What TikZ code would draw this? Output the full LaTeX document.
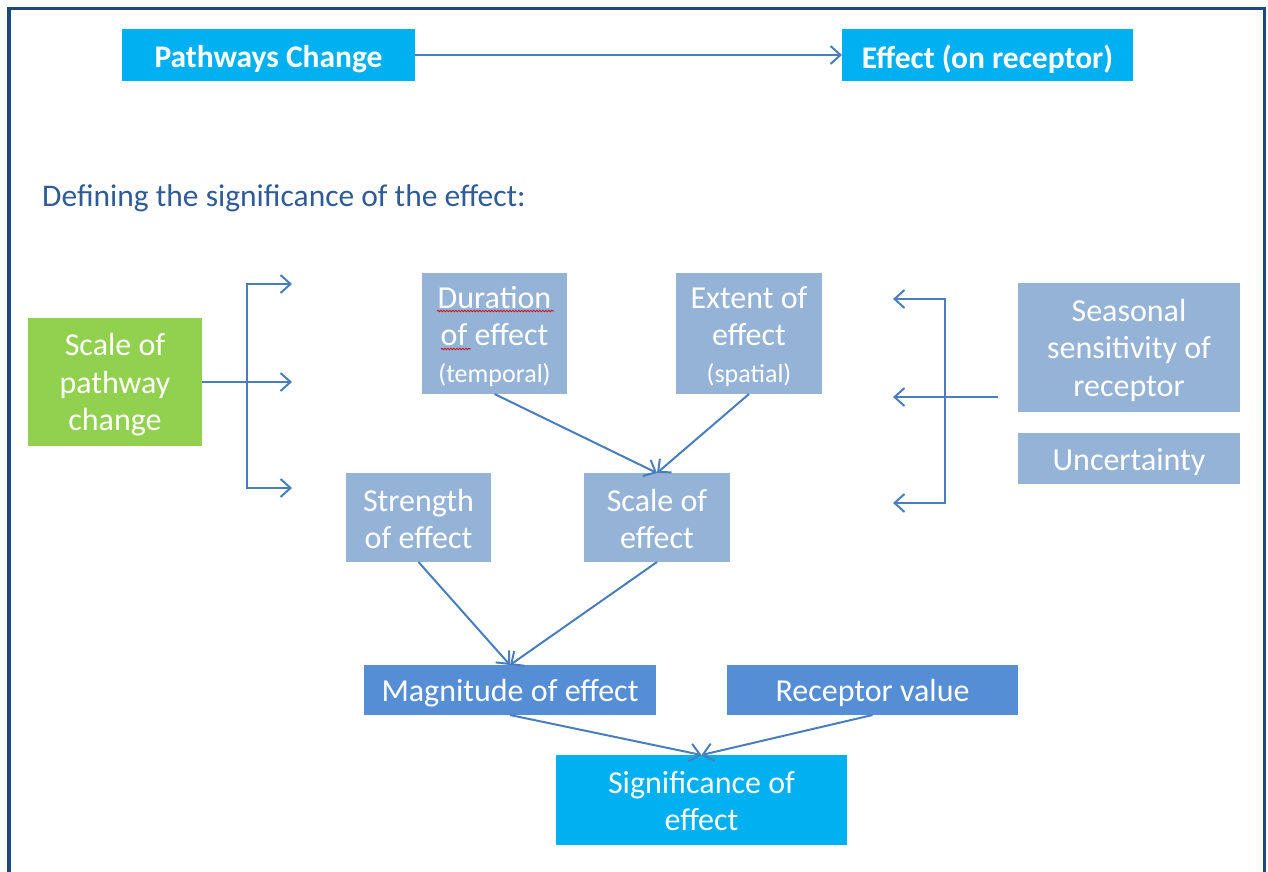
\documentclass[tikz,border=0pt]{standalone}
\usepackage{fontspec}
\setmainfont{Carlito}
\usetikzlibrary{arrows.meta,decorations.pathmorphing}
\definecolor{cyanbox}{HTML}{00B0F0}
\definecolor{greenbox}{HTML}{92D050}
\definecolor{lightbox}{HTML}{95B3D7}
\definecolor{midbox}{HTML}{558ED5}
\definecolor{arrowcol}{HTML}{4A7EBB}
\definecolor{framecol}{HTML}{1F497D}
\definecolor{headcol}{HTML}{2F5B96}
\begin{document}
\begin{tikzpicture}[x=1pt,y=-1pt,
  box/.style={inner sep=0pt, outer sep=0pt},
  btext/.style={inner sep=0pt, text=white, align=center,
    font=\fontsize{32}{37.5}\selectfont},
  bold/.style={btext, font=\bfseries\fontsize{31.5}{37}\selectfont},
  cyanb/.style={box, fill=cyanbox},
  greenb/.style={box, fill=greenbox},
  lightb/.style={box, fill=lightbox},
  midb/.style={box, fill=midbox},
  conn/.style={draw=arrowcol, line width=2pt,
    -{Straight Barb[length=10pt,width=18pt,line width=2pt]}},
  bconn/.style={draw=arrowcol, line width=2pt,
    {Straight Barb[length=10pt,width=18pt,line width=2pt]}-{Straight Barb[length=10pt,width=18pt,line width=2pt]}},
  squig/.style={draw=red!80!black, line width=0.7pt,
    decorate, decoration={snake, segment length=3pt, amplitude=0.8pt}}
]
\useasboundingbox (0,0) rectangle (1268,872);
% frame
\draw[framecol, line width=3.5pt, line join=miter] (9,872) -- (9,8.5) -- (1264.5,8.5) -- (1264.5,872);

% top row
\node[cyanb, minimum width=293pt, minimum height=52pt] (pc) at (268.5,55) {};
\node[bold] (pct) at ([yshift=-4pt]pc.center) {Pathways Change};
\node[cyanb, minimum width=291pt, minimum height=52pt] (eor) at (987.5,55) {};
\node[bold] (eort) at ([yshift=-4pt]eor.center) {Effect (on receptor)};
\draw[conn] (pc) -- (eor);

% heading
\node[anchor=west, inner sep=0pt, text=headcol, font=\fontsize{31.5}{37}\selectfont]
  (head) at (42,198) {Defining the significance of the effect:};

% boxes
\node[greenb, minimum width=174pt, minimum height=128pt] (scp) at (115,382) {};
\node[btext] (scpt) at ([yshift=-3pt]scp.center) {Scale of\\pathway\\change};

\node[lightb, minimum width=145pt, minimum height=121pt] (dur) at (494.5,333.5) {};
\node[btext] (durt) at ([yshift=-3pt]dur.center)
  {Duration\\of effect\\[-1pt]{\fontsize{26}{31}\selectfont (temporal)}};

\node[lightb, minimum width=146pt, minimum height=121pt] (ext) at (749,333.5) {};
\node[btext] (extt) at ([yshift=-3pt]ext.center)
  {Extent of\\effect\\[-1pt]{\fontsize{26}{31}\selectfont (spatial)}};

\node[lightb, minimum width=145pt, minimum height=89pt] (str) at (418.5,517.5) {};
\node[btext] (strt) at ([yshift=-1.5pt]str.center) {Strength\\of effect};

\node[lightb, minimum width=146pt, minimum height=89pt] (sce) at (657,517.5) {};
\node[btext] (scet) at ([yshift=-1.5pt]sce.center) {Scale of\\effect};

\node[lightb, minimum width=222pt, minimum height=129pt] (sea) at (1129,347.5) {};
\node[btext] (seat) at ([yshift=-2.5pt]sea.center) {Seasonal\\sensitivity of\\receptor};

\node[lightb, minimum width=222pt, minimum height=51pt] (unc) at (1129,458.5) {};
\node[btext] (unct) at ([yshift=-3.5pt]unc.center) {Uncertainty};

\node[midb, minimum width=292pt, minimum height=50pt] (mag) at (510,690) {};
\node[btext] (magt) at ([yshift=-3pt]mag.center) {Magnitude of effect};

\node[midb, minimum width=291pt, minimum height=50pt] (rec) at (872.5,690) {};
\node[btext] (rect) at ([yshift=-3pt]rec.center) {Receptor value};

\node[cyanb, minimum width=291pt, minimum height=90pt] (sig) at (701.5,800) {};
\node[btext] (sigt) at ([yshift=-1pt]sig.center) {Significance of\\effect};

% spell-check marks
\draw[squig] (437,311) -- (554,311);
\draw[squig] (441,349) -- (471,349);

% left bracket
\coordinate (lb1) at (247,284);
\coordinate (lb3) at (247,488);
\coordinate (la1) at (292,284);
\coordinate (la2) at (292,382);
\coordinate (la3) at (292,488);
\draw[bconn] (la1) -- (lb1) -- (lb3) -- (la3);
\draw[conn] (scp.east) -- (la2);

% right bracket
\coordinate (rb1) at (945,299);
\coordinate (rb3) at (945,503);
\coordinate (ra1) at (893,299);
\coordinate (ra2) at (893,397);
\coordinate (ra3) at (893,503);
\coordinate (rs) at (998,397);
\draw[bconn] (ra1) -- (rb1) -- (rb3) -- (ra3);
\draw[conn] (rs) -- (ra2);

% tree connectors
\draw[conn] (dur.south) -- (sce.north);
\draw[conn] (ext.south) -- (sce.north);
\draw[conn] (str.south) -- (mag.north);
\draw[conn] (sce.south) -- (mag.north);
\draw[conn] (mag.south) -- (sig.north);
\draw[conn] (rec.south) -- (sig.north);
\end{tikzpicture}
\end{document}
